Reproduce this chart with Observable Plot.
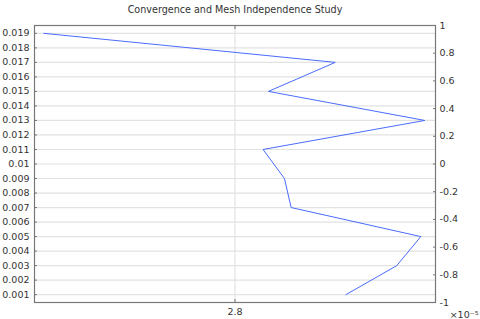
<!DOCTYPE html>
<html>
<head>
<meta charset="utf-8">
<script src="https://cdn.jsdelivr.net/npm/d3@7"></script>
<script src="https://cdn.jsdelivr.net/npm/@observablehq/plot@0.6"></script>
<style>
body { margin: 0; background: #fff; }
svg { display: block; }
</style>
</head>
<body>
<div id="chart"></div>
<script>
const title = "Convergence and Mesh Independence Study";
// y values (left axis) and x values (units of 1e-5)
const yValues = [0.001, 0.003, 0.005, 0.007, 0.009, 0.011, 0.013, 0.015, 0.017, 0.019];
const xValues = [2.883, 2.921, 2.939, 2.842, 2.837, 2.821, 2.942, 2.825, 2.875, 2.657];
const leftTicks = [0.001,0.002,0.003,0.004,0.005,0.006,0.007,0.008,0.009,0.010,0.011,0.012,0.013,0.014,0.015,0.016,0.017,0.018,0.019];
const rightTicks = [-1,-0.8,-0.6,-0.4,-0.2,0,0.2,0.4,0.6,0.8,1];
const xTicks = [2.8];
const xExponentLabel = "×10⁻⁵";

const data = yValues.map((y, i) => ({x: xValues[i], y}));
const yDomain = [0.00046, 0.01954];
const rightToLeft = t => yDomain[0] + (t + 1) / 2 * (yDomain[1] - yDomain[0]);

const chart = Plot.plot({
  width: 480,
  height: 319,
  marginLeft: 34,
  marginRight: 45,
  marginTop: 25,
  marginBottom: 17,
  style: {fontFamily: "DejaVu Sans", fontSize: "9.5px", color: "#333", background: "#fff"},
  x: {domain: [2.65, 2.95]},
  y: {domain: yDomain},
  marks: [
    Plot.gridY(leftTicks, {stroke: "#e2e2e2", strokeOpacity: 1, strokeWidth: 1.2}),
    Plot.gridX(xTicks, {stroke: "#e2e2e2", strokeOpacity: 1, strokeWidth: 1.2}),
    Plot.line(data, {x: "x", y: "y", stroke: "#4a6cff", strokeWidth: 1}),
    Plot.frame({stroke: "#777", strokeWidth: 1.2}),
    Plot.axisY(leftTicks, {anchor: "left", tickSize: -3, tickPadding: 8, stroke: "#777", tickFormat: d => String(+d.toFixed(3)), label: null}),
    Plot.axisY(rightTicks.map(rightToLeft), {anchor: "right", tickSize: -3, tickPadding: 7, stroke: "#777", tickFormat: (d, i) => String(rightTicks[i]), label: null}),
    Plot.axisX(xTicks, {anchor: "bottom", tickSize: -3, tickPadding: 9, stroke: "#777", tickFormat: d => d.toFixed(1), label: null}),
    Plot.axisX(xTicks, {anchor: "top", tickSize: -3, stroke: "#777", tickFormat: () => "", label: null}),
    Plot.text([title], {frameAnchor: "top", dy: -19, text: d => d, fill: "#333", fontSize: 9.6}),
    Plot.text([xExponentLabel], {frameAnchor: "bottom-right", dx: 43, dy: 15, text: d => d, fill: "#333", fontSize: 9.5})
  ]
});
document.getElementById("chart").appendChild(chart);
</script>
</body>
</html>
